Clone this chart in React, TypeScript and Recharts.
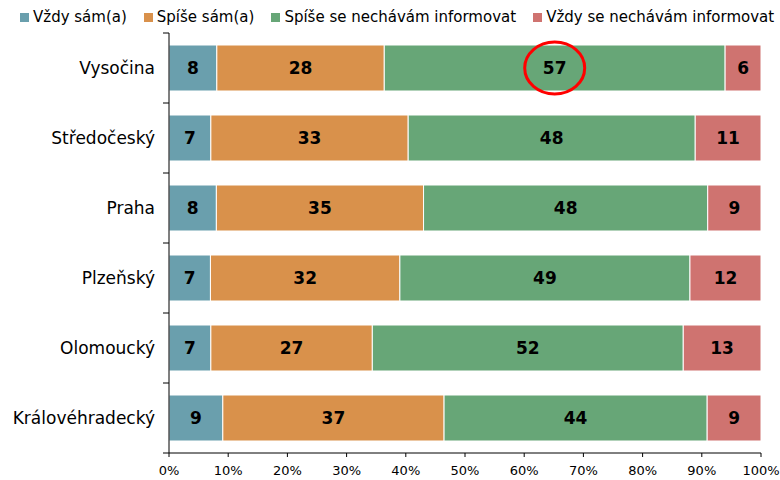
// Stacked 100% horizontal bars: how respondents decide, by region

import React from 'react';
import { BarChart, Bar, XAxis, YAxis, LabelList } from 'recharts';

const regions = ['Vysočina', 'Středočeský', 'Praha', 'Plzeňský', 'Olomoucký', 'Královéhradecký'];
const vzdySam = [8, 7, 8, 7, 7, 9];
const spiseSam = [28, 33, 35, 32, 27, 37];
const spiseInform = [57, 48, 48, 49, 52, 44];
const vzdyInform = [6, 11, 9, 12, 13, 9];
const xTicks = [0, 0.1, 0.2, 0.3, 0.4, 0.5, 0.6, 0.7, 0.8, 0.9, 1];
const highlightIndex = 0; // the circled value

const series = [
  { key: 'a', name: 'Vždy sám(a)', color: '#6A9FAD', values: vzdySam },
  { key: 'b', name: 'Spíše sám(a)', color: '#D9914B', values: spiseSam },
  { key: 'c', name: 'Spíše se nechávám informovat', color: '#67A677', values: spiseInform },
  { key: 'd', name: 'Vždy se nechávám informovat', color: '#CF7370', values: vzdyInform },
];

const data = regions.map((region, i) => {
  const row: Record<string, any> = { region };
  series.forEach((s) => { row[s.key] = s.values[i]; });
  return row;
});

const FONT = '"DejaVu Sans", Verdana, sans-serif';
const WIDTH = 780;
const HEIGHT = 480;
const TOP = 33;
const XAXIS_H = 27;
const BAND_HALF = (HEIGHT - TOP - XAXIS_H) / regions.length / 2;

const RegionTick = (props: any) => {
  const { x, y, payload, index } = props;
  const lx = x + 8;
  return (
    <g>
      <line x1={lx} x2={lx + 6} y1={y - BAND_HALF} y2={y - BAND_HALF} stroke="#000" />
      {index === regions.length - 1 && (
        <line x1={lx} x2={lx + 6} y1={y + BAND_HALF} y2={y + BAND_HALF} stroke="#000" />
      )}
      <text x={x} y={y} dy="0.35em" textAnchor="end" fontSize={17} fontFamily={FONT} fill="#000">
        {payload.value}
      </text>
    </g>
  );
};

const Circle = (props: any) => {
  const { x, y, width, height, index } = props;
  if (index !== highlightIndex) return null;
  return (
    <ellipse
      cx={x + width / 2}
      cy={y + height / 2}
      rx={30}
      ry={26}
      fill="none"
      stroke="#FF0000"
      strokeWidth={3}
    />
  );
};

export default function App() {
  return (
    <div style={{ position: 'absolute', left: 0, top: 0, width: WIDTH, height: HEIGHT, background: '#fff', fontFamily: FONT }}>
      <div style={{ position: 'absolute', left: 20, top: 8, display: 'flex', fontSize: 15, color: '#000', whiteSpace: 'nowrap' }}>
        {series.map((s) => (
          <div key={s.key} style={{ display: 'flex', alignItems: 'center', marginRight: 17 }}>
            <span style={{ width: 9, height: 9, background: s.color, display: 'inline-block', marginRight: 4 }} />
            <span>{s.name}</span>
          </div>
        ))}
      </div>
      <BarChart
        width={WIDTH}
        height={HEIGHT}
        data={data}
        layout="vertical"
        stackOffset="expand"
        barSize={46}
        margin={{ top: TOP, right: 19, bottom: 0, left: 0 }}
      >
        <XAxis
          type="number"
          domain={[0, 1]}
          ticks={xTicks}
          tickFormatter={(v: number) => `${Math.round(v * 100)}%`}
          height={XAXIS_H}
          tickSize={4}
          tickMargin={9}
          interval={0}
          axisLine={{ stroke: '#000' }}
          tickLine={{ stroke: '#000' }}
          tick={{ fontSize: 13, fontFamily: FONT, fill: '#000' }}
        />
        <YAxis
          type="category"
          dataKey="region"
          width={169}
          tickSize={6}
          tickMargin={8}
          tickLine={false}
          axisLine={{ stroke: '#000' }}
          tick={<RegionTick />}
          interval={0}
        />
        {series.map((s) => (
          <Bar key={s.key} dataKey={s.key} name={s.name} stackId="x" fill={s.color} stroke="#fff" strokeWidth={1} isAnimationActive={false}>
            <LabelList dataKey={s.key} position="center" fill="#000" fontSize={17} fontWeight="bold" fontFamily={FONT} />
            {s.key === 'c' && <LabelList dataKey={s.key} content={<Circle />} />}
          </Bar>
        ))}
      </BarChart>
    </div>
  );
}
